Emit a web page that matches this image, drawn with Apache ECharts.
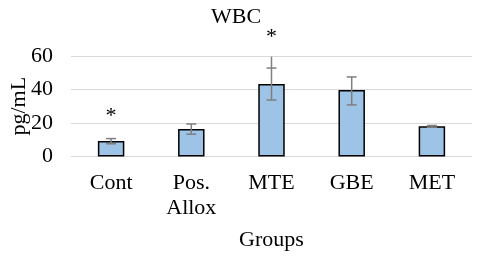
<!DOCTYPE html>
<html>
<head>
<meta charset="utf-8">
<script src="https://cdn.jsdelivr.net/npm/echarts@6/dist/echarts.min.js"></script>
<style>html,body{margin:0;padding:0;background:#fff}#c{width:480px;height:259px}</style>
</head>
<body>
<div id="c"></div>
<script>
const categories = ['Cont', 'Pos.\nAllox', 'MTE', 'GBE', 'MET'];
const means = [9.2, 16.4, 43.3, 39.7, 18.0];
const errLow = [7.6, 13.3, 33.7, 30.8, 17.5];
const errHigh = [10.7, 19.4, 52.8, 47.5, 18.5];
const whiskerTop = [10.7, 19.4, 59.6, 47.5, 18.5];
const starY = [24, null, 71, null, null];
const yTicks = { min: 0, max: 60, interval: 20 };

const FONT = '"Liberation Serif", "Times New Roman", serif';
const chart = echarts.init(document.getElementById('c'), null, { renderer: 'canvas' });

const errData = categories.map((c, i) => [i, errLow[i], errHigh[i], whiskerTop[i]]);
const starData = starY.map((v, i) => v == null ? null : [i, v]).filter(d => d);

chart.setOption({
  animation: false,
  backgroundColor: '#fff',
  title: {
    text: 'WBC', left: 206, top: 1,
    textStyle: { fontFamily: FONT, fontSize: 22, fontWeight: 'normal', color: '#000' }
  },
  grid: { left: 71, right: 8, top: 56, bottom: 102.5, outerBoundsMode: 'none', containLabel: false },
  xAxis: {
    type: 'category', data: categories,
    axisLine: { show: false }, axisTick: { show: false },
    axisLabel: { fontFamily: FONT, fontSize: 22, color: '#000', margin: 14, lineHeight: 25 },
    name: 'Groups', nameLocation: 'middle', nameGap: 73, nameMoveOverlap: false,
    nameTextStyle: { fontFamily: FONT, fontSize: 22, color: '#000', verticalAlign: 'top' }
  },
  yAxis: {
    type: 'value', min: yTicks.min, max: yTicks.max, interval: yTicks.interval,
    axisLine: { show: false }, axisTick: { show: false },
    splitLine: { lineStyle: { color: '#d9d9d9', width: 1 } },
    axisLabel: { fontFamily: FONT, fontSize: 22, color: '#000', margin: 18 },
    name: 'pg/mL', nameLocation: 'middle', nameGap: 41, nameRotate: 90, nameMoveOverlap: false,
    nameTextStyle: { fontFamily: FONT, fontSize: 22, color: '#000' }
  },
  series: [
    {
      type: 'bar', data: means, barWidth: '33%',
      itemStyle: { color: '#9DC3E6', borderColor: '#000', borderWidth: 1.5 },
      z: 2
    },
    {
      type: 'custom', data: errData, z: 3,
      renderItem: function (params, api) {
        const x = api.value(0);
        const lo = api.coord([x, api.value(1)]);
        const hi = api.coord([x, api.value(2)]);
        const top = api.coord([x, api.value(3)]);
        const hw = 5;
        const style = { stroke: '#7f7f7f', lineWidth: 1.5 };
        return {
          type: 'group',
          children: [
            { type: 'line', shape: { x1: lo[0], y1: lo[1], x2: top[0], y2: top[1] }, style: style },
            { type: 'line', shape: { x1: lo[0] - hw, y1: lo[1], x2: lo[0] + hw, y2: lo[1] }, style: style },
            { type: 'line', shape: { x1: hi[0] - hw, y1: hi[1], x2: hi[0] + hw, y2: hi[1] }, style: style }
          ]
        };
      }
    },
    {
      type: 'custom', data: starData, z: 4,
      renderItem: function (params, api) {
        const p = api.coord([api.value(0), api.value(1)]);
        return {
          type: 'text',
          style: { x: p[0], y: p[1], text: '*', fontFamily: FONT, fontSize: 22, fill: '#000', align: 'center', verticalAlign: 'middle' }
        };
      }
    }
  ]
});
</script>
</body>
</html>
